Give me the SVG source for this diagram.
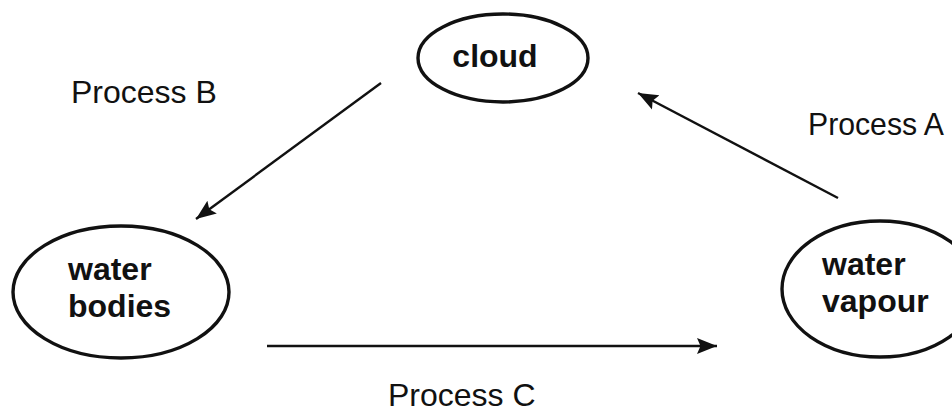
<svg xmlns="http://www.w3.org/2000/svg" width="952" height="412" viewBox="0 0 952 412">
  <style>
    .node ellipse { fill: #ffffff; stroke: #111111; stroke-width: 3.4; }
    .node text { font-family: "Liberation Sans", Arial, sans-serif; font-weight: bold; font-size: 32px; fill: #111111; }
    .label { font-family: "Liberation Sans", Arial, sans-serif; font-size: 32px; fill: #111111; }
    .edge { stroke: #111111; stroke-width: 2.4; fill: none; marker-end: url(#head); }
  </style>
  <defs>
    <marker id="head" markerUnits="userSpaceOnUse" markerWidth="22" markerHeight="18" viewBox="0 0 22 18" refX="20" refY="9" orient="auto">
      <path d="M0,1 L20,9 L0,17 L3.5,9 z" fill="#111111"/>
    </marker>
  </defs>
  <rect width="952" height="412" fill="#ffffff"/>

  <g id="connectors">
    <!-- Process B: cloud to water bodies -->
    <line class="edge" x1="381" y1="83" x2="196" y2="219"/>
    <!-- Process A: water vapour to cloud -->
    <line class="edge" x1="838" y1="198" x2="638" y2="93"/>
    <!-- Process C: water bodies to water vapour -->
    <line class="edge" x1="267" y1="346" x2="717" y2="346"/>
  </g>

  <g id="cloud" class="node">
    <ellipse cx="503" cy="58" rx="85" ry="44"/>
    <text x="495" y="67" text-anchor="middle">cloud</text>
  </g>

  <g id="water-bodies" class="node">
    <ellipse cx="121" cy="292" rx="108" ry="66"/>
    <text x="68" y="280">water</text>
    <text x="68" y="317">bodies</text>
  </g>

  <g id="water-vapour" class="node">
    <ellipse cx="880" cy="289" rx="98" ry="68"/>
    <text x="822" y="275">water</text>
    <text x="822" y="312">vapour</text>
  </g>

  <g id="labels">
    <text class="label" x="808" y="135" textLength="136" lengthAdjust="spacingAndGlyphs">Process A</text>
    <text class="label" x="71" y="103">Process B</text>
    <text class="label" x="388" y="406">Process C</text>
  </g>
</svg>
